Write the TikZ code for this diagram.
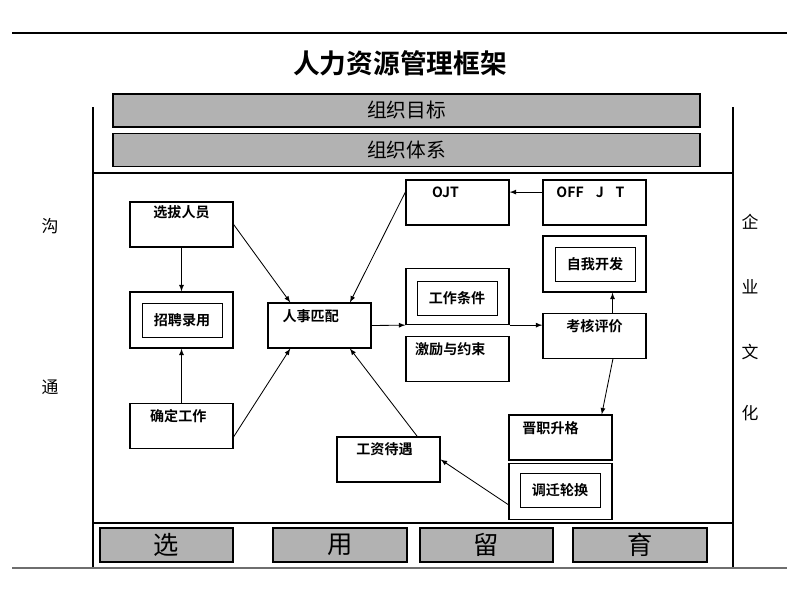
\documentclass[tikz,border=0pt]{standalone}
\usepackage{fontspec}
\setmainfont{Noto Sans CJK SC}[BoldFont={* Bold}]
\usetikzlibrary{positioning}
\definecolor{barGray}{RGB}{178,178,178}
\definecolor{rimGray}{RGB}{110,110,110}

\begin{document}
\begin{tikzpicture}[x=0.025cm, y=-0.025cm, >=latex,
    box/.style={shape=rectangle, draw, line width=0.9pt, minimum width=2.575cm, minimum height=1.12cm, inner sep=0pt},
    tallbox/.style={box, minimum height=1.4cm},
    inbox/.style={shape=rectangle, draw, line width=0.7pt, minimum width=2cm, minimum height=0.85cm, inner sep=0pt, font=\bfseries\fontsize{10}{12}\selectfont},
    tag/.style={font=\bfseries\fontsize{10}{12}\selectfont, anchor=center},
    bar/.style={shape=rectangle, draw, line width=1pt, fill=barGray, inner sep=0pt, minimum height=0.83cm},
    side/.style={font=\fontsize{12}{14}\selectfont},
    link/.style={->, line width=0.6pt}]
    \useasboundingbox (0,0) rectangle (800,600);

    % frame
    \draw[line width=1pt] (12,33) -- (787,33);
    \draw[line width=0.8pt] (93,107) -- (93,568) (733,107) -- (733,568);
    \draw[line width=0.8pt] (93,173) -- (733,173) (93,523) -- (733,523);
    \draw[line width=1.4pt, rimGray] (12,568) -- (787,568);

    \node[font=\bfseries\fontsize{19}{22}\selectfont] (title) at (400,63) {人力资源管理框架};

    % top and bottom bars
    \node[bar, minimum width=14.675cm, font=\fontsize{14}{16}\selectfont] (zzmb) at (406.5,110.5) {组织目标};
    \node[bar, minimum width=14.675cm, font=\fontsize{14}{16}\selectfont] (zztx) at (406.5,150) {组织体系};
    \node[bar, minimum width=3.325cm, minimum height=0.85cm, font=\fontsize{18}{20}\selectfont] (xuan) at (166.5,545) {选};
    \node[bar, minimum width=3.35cm, minimum height=0.85cm, font=\fontsize{18}{20}\selectfont] (yong) at (340,545) {用};
    \node[bar, minimum width=3.325cm, minimum height=0.85cm, font=\fontsize{18}{20}\selectfont] (liu) at (486.5,545) {留};
    \node[bar, minimum width=3.35cm, minimum height=0.85cm, font=\fontsize{18}{20}\selectfont] (yu) at (640,545) {育};

    % side words
    \node[side] (gou) at (50,226) {沟};
    \node[side] (tong) at (50,387) {通};
    \node[side] (qi) at (750,222) {企};
    \node[side] (ye) at (750,287) {业};
    \node[side] (wen) at (750,352) {文};
    \node[side] (hua) at (750,413) {化};

    % boxes
    \node[box, label={[tag, yshift=-0.28cm]north:选拔人员}] (xbry) at (181.5,224.5) {};
    \node[tallbox] (zply) at (181.5,320) {};
    \node[inbox] (zplyin) at (182,320) {招聘录用};
    \node[box, label={[tag, xshift=-0.08cm, yshift=-0.33cm]north:确定工作}] (qdgz) at (181.5,426) {};
    \node[box, label={[tag, xshift=-0.22cm, yshift=-0.35cm]north:人事匹配}] (rspp) at (319.5,325.5) {};
    \node[box, label={[tag, xshift=-0.3cm, yshift=-0.33cm]north:OJT}] (ojt) at (457.5,202.5) {};
    \node[box, label={[tag, xshift=-0.1cm, yshift=-0.33cm]north:OFF\hspace{0.3cm}J\hspace{0.3cm}T}] (offjt) at (594.5,202.5) {};
    \node[tallbox] (gztj) at (457.5,296.5) {};
    \node[inbox] (gztjin) at (457,298) {工作条件};
    \node[box, label={[tag, xshift=-0.18cm, yshift=-0.33cm]north:激励与约束}] (jlys) at (457.5,359) {};
    \node[tallbox] (zwkf) at (594.5,264) {};
    \node[inbox] (zwkfin) at (595,264) {自我开发};
    \node[box, label={[tag, yshift=-0.33cm]north:考核评价}] (khpj) at (594.5,336) {};
    \node[box, label={[tag, xshift=-0.25cm, yshift=-0.33cm]north:晋职升格}] (jzsg) at (560.5,437.5) {};
    \node[tallbox] (dqlh) at (560.5,491.5) {};
    \node[inbox] (dqlhin) at (560,490.5) {调迁轮换};
    \node[box, label={[tag, xshift=-0.1cm, yshift=-0.33cm]north:工资待遇}] (gzdy) at (388.5,459.5) {};

    % arrows
    \draw[link] (xbry) -- (zply);
    \draw[link] (qdgz) -- (zply);
    \draw[link] (xbry.east) -- ([xshift=-0.73cm]rspp.north);
    \draw[link] ([yshift=-0.27cm]qdgz.east) -- ([xshift=-0.73cm]rspp.south);
    \draw[link] ([yshift=0.26cm]ojt.west) -- ([xshift=0.76cm]rspp.north);
    \draw[link] ([xshift=0.72cm]gzdy.north) -- ([xshift=0.76cm]rspp.south);
    \draw[link] ([yshift=-0.33cm]dqlh.west) -- (gzdy.east);
    \draw[link] ([yshift=0.26cm]offjt.west) -- ([yshift=0.26cm]ojt.east);
    \draw[link] (rspp.east) -- (gztj.south west);
    \draw[link] (gztj.south east) -- (gztj.south east -| khpj.west);
    \draw[link] ([xshift=0.45cm]khpj.north) -- ([xshift=0.45cm]zwkf.south);
    \draw[link] ([xshift=0.46cm]khpj.south) -- ([xshift=1.03cm]jzsg.north);
\end{tikzpicture}
\end{document}
